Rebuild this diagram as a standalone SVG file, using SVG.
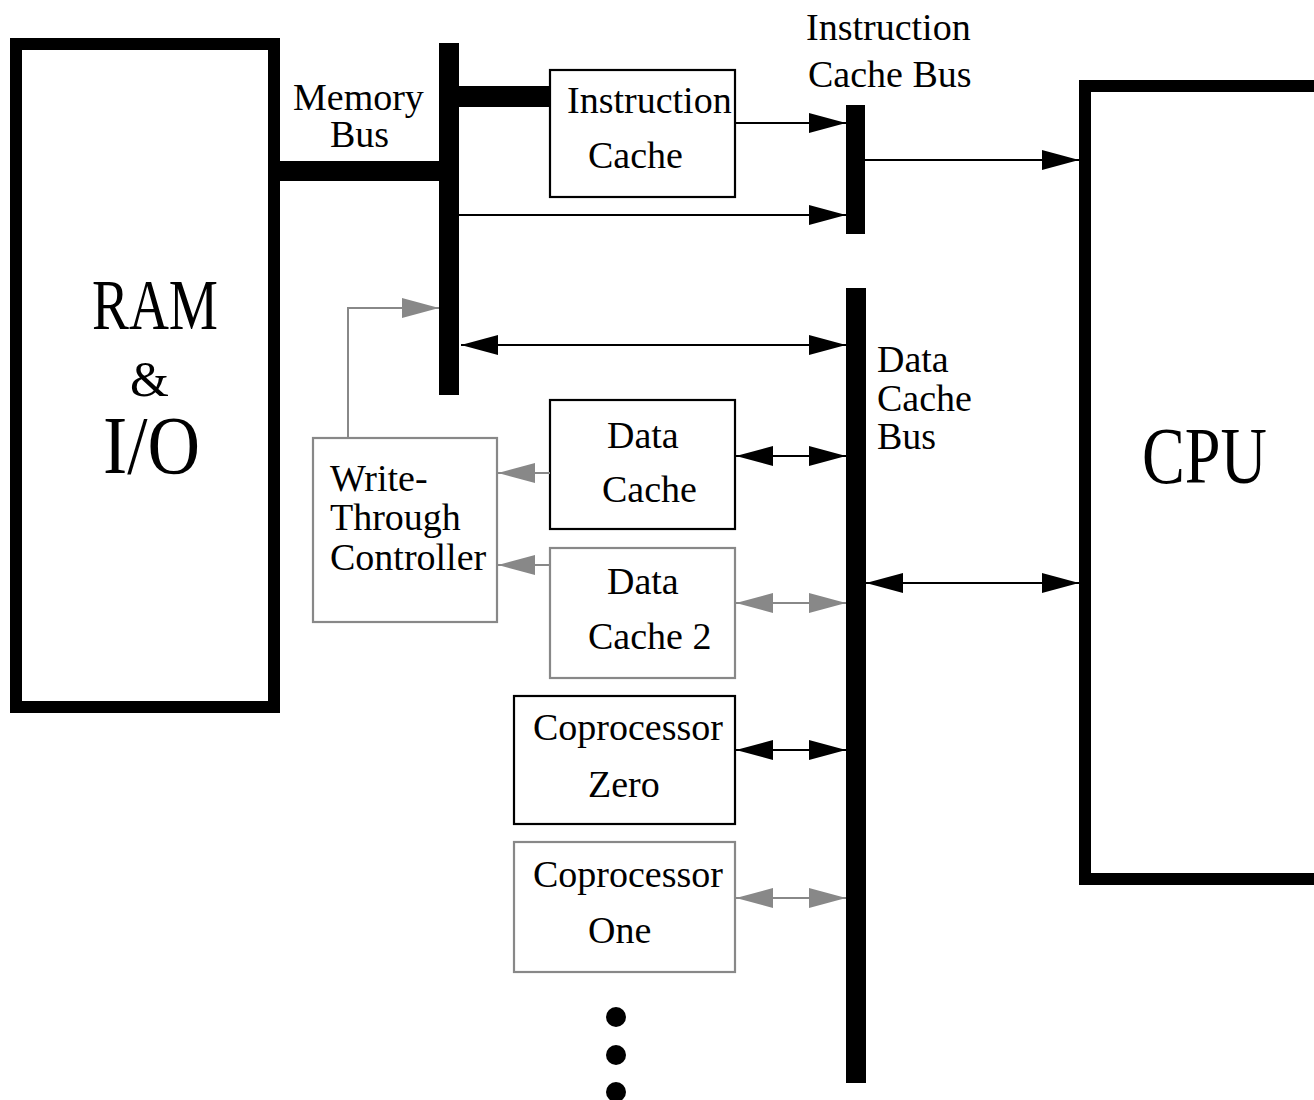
<svg xmlns="http://www.w3.org/2000/svg" width="1314" height="1100" viewBox="0 0 1314 1100">
<style>
text{font-family:"Liberation Serif","Times New Roman",serif;font-size:38px;fill:#000}
.box{fill:#fff;stroke:#000;stroke-width:2.2}
.gbox{fill:#fff;stroke:#888;stroke-width:2.2}
.big{fill:#fff;stroke:#000;stroke-width:12}
.bus{fill:#000}
.ln{fill:none;stroke:#000;stroke-width:2}
.gln{fill:none;stroke:#888;stroke-width:2}
.blk{marker-end:url(#ah)}
.blk2{marker-start:url(#ah);marker-end:url(#ah)}
.gry{marker-end:url(#gah)}
.gry2{marker-start:url(#gah);marker-end:url(#gah)}
</style>
<defs>
<marker id="ah" viewBox="0 0 37 20" refX="37" refY="10" markerWidth="37" markerHeight="20" markerUnits="userSpaceOnUse" orient="auto-start-reverse"><path d="M0,0 L37,10 L0,20 z" fill="#000"/></marker>
<marker id="gah" viewBox="0 0 37 20" refX="37" refY="10" markerWidth="37" markerHeight="20" markerUnits="userSpaceOnUse" orient="auto-start-reverse"><path d="M0,0 L37,10 L0,20 z" fill="#888"/></marker>
</defs>
<rect width="1314" height="1100" fill="#fff"/>

<g id="ram">
<rect class="big" x="16" y="44" width="258" height="663"/>
<text x="92" y="329" font-size="71" style="font-size:71px" textLength="126" lengthAdjust="spacingAndGlyphs">RAM</text>
<text x="130" y="396" style="font-size:50px">&amp;</text>
<text x="103" y="473" style="font-size:82px" textLength="97" lengthAdjust="spacingAndGlyphs">I/O</text>
</g>

<g id="cpu">
<rect class="big" x="1085" y="86" width="300" height="793"/>
<text x="1142" y="483" style="font-size:81px" textLength="125" lengthAdjust="spacingAndGlyphs">CPU</text>
</g>

<g id="memory-bus">
<rect class="bus" x="439" y="43" width="20" height="352"/>
<rect class="bus" x="274" y="161" width="166" height="20"/>
<rect class="bus" x="458" y="86" width="93" height="21"/>
<text x="293" y="110">Memory</text>
<text x="330" y="147">Bus</text>
</g>

<g id="instruction-cache-bus">
<rect class="bus" x="846" y="105" width="19" height="129"/>
<text x="806" y="40">Instruction</text>
<text x="808" y="87">Cache Bus</text>
</g>

<g id="data-cache-bus">
<rect class="bus" x="846" y="288" width="20" height="795"/>
<text x="877" y="372">Data</text>
<text x="877" y="411">Cache</text>
<text x="877" y="449">Bus</text>
</g>

<g id="instruction-cache">
<rect class="box" x="550" y="70" width="185" height="127"/>
<text x="567" y="113">Instruction</text>
<text x="588" y="168">Cache</text>
</g>

<g id="write-through-controller">
<rect class="gbox" x="313" y="438" width="184" height="184"/>
<text x="330" y="491">Write-</text>
<text x="330" y="530">Through</text>
<text x="330" y="570">Controller</text>
</g>

<g id="data-cache">
<rect class="box" x="550" y="400" width="185" height="129"/>
<text x="607" y="448">Data</text>
<text x="602" y="502">Cache</text>
</g>

<g id="data-cache-2">
<rect class="gbox" x="550" y="548" width="185" height="130"/>
<text x="607" y="594">Data</text>
<text x="588" y="649">Cache 2</text>
</g>

<g id="coprocessor-zero">
<rect class="box" x="514" y="696" width="221" height="128"/>
<text x="533" y="740">Coprocessor</text>
<text x="588" y="797">Zero</text>
</g>

<g id="coprocessor-one">
<rect class="gbox" x="514" y="842" width="221" height="130"/>
<text x="533" y="887">Coprocessor</text>
<text x="588" y="943">One</text>
</g>

<g id="more">
<circle cx="616" cy="1017" r="10"/>
<circle cx="616" cy="1055" r="10"/>
<circle cx="616" cy="1092" r="10"/>
</g>

<g id="connectors">
<line class="ln blk" x1="735" y1="123" x2="846" y2="123"/>
<line class="ln blk" x1="459" y1="215" x2="846" y2="215"/>
<line class="ln blk" x1="865" y1="160" x2="1079" y2="160"/>
<line class="ln blk2" x1="461" y1="345" x2="846" y2="345"/>
<line class="ln blk2" x1="736" y1="456" x2="846" y2="456"/>
<line class="gln gry2" x1="736" y1="603" x2="846" y2="603"/>
<line class="ln blk2" x1="866" y1="583" x2="1079" y2="583"/>
<line class="ln blk2" x1="736" y1="750" x2="846" y2="750"/>
<line class="gln gry2" x1="736" y1="898" x2="846" y2="898"/>
<line class="gln gry" x1="550" y1="473" x2="498" y2="473"/>
<line class="gln gry" x1="550" y1="565" x2="498" y2="565"/>
<path class="gln gry" d="M348,438 V308 H439"/>
</g>
</svg>
